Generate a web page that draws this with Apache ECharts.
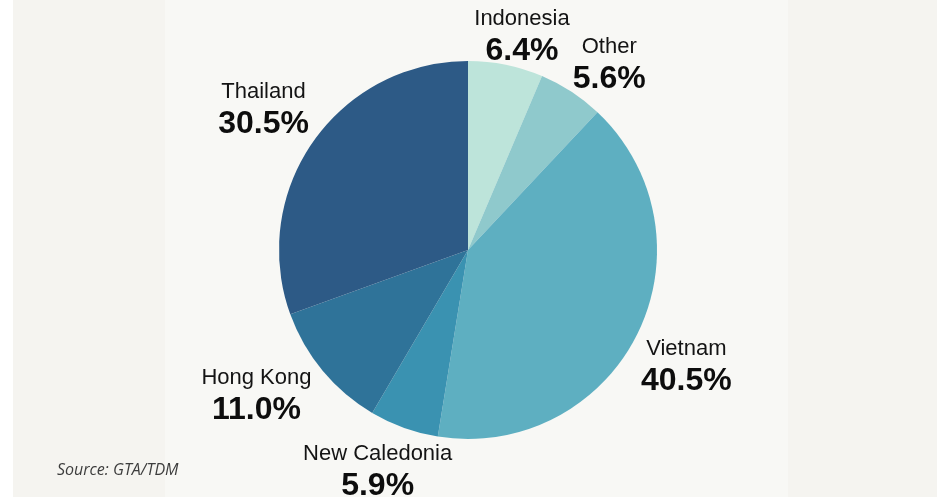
<!DOCTYPE html>
<html>
<head>
<meta charset="utf-8">
<script src="https://cdn.jsdelivr.net/npm/echarts@6/dist/echarts.min.js"></script>
<style>
  html, body { margin: 0; padding: 0; background: #ffffff; }
  #chart { width: 937px; height: 498px; }
</style>
</head>
<body>
<div id="chart"></div>
<script>
// ---- Data ----
const categories = ['Indonesia', 'Other', 'Vietnam', 'New Caledonia', 'Hong Kong', 'Thailand'];
const shares = [6.4, 5.6, 40.5, 5.9, 11.0, 30.5];
const sourceNote = 'Source: GTA/TDM';

// ---- Styles (kept separate from data) ----
const sliceColors = ['#bde4da', '#8fc9cc', '#5eafc1', '#3a92b1', '#2f7399', '#2d5a86'];
const labelNudges = [[6, 22], [10, 16], [3, 11], [-9, -4], [-27, -7], [-8, -2]];

const pieCenter = [468, 250];
const pieRadius = 189;
const labelRing = 474; // transparent ring whose inner label midpoint sits outside the pie

const chart = echarts.init(document.getElementById('chart'), null, { renderer: 'canvas' });

const pieData = categories.map((name, i) => ({
  name: name,
  value: shares[i],
  itemStyle: { color: sliceColors[i] }
}));

const labelData = categories.map((name, i) => ({
  name: name,
  value: shares[i],
  label: { offset: labelNudges[i] }
}));

const option = {
  backgroundColor: '#ffffff',
  animation: false,
  graphic: [
    { type: 'rect', silent: true, z: -10, shape: { x: 13, y: 0, width: 152, height: 497 }, style: { fill: '#f5f4f0' } },
    { type: 'rect', silent: true, z: -10, shape: { x: 165, y: 0, width: 623, height: 497 }, style: { fill: '#f8f8f5' } },
    { type: 'rect', silent: true, z: -10, shape: { x: 788, y: 0, width: 149, height: 497 }, style: { fill: '#f5f4f0' } },
    {
      type: 'text', silent: true, left: 57, top: 462,
      style: {
        text: sourceNote,
        fontFamily: 'Open Sans',
        fontStyle: 'italic',
        fontSize: 16,
        fill: '#3d3d3d'
      }
    }
  ],
  series: [
    {
      type: 'pie',
      center: pieCenter,
      radius: [0, pieRadius],
      startAngle: 90,
      clockwise: true,
      silent: true,
      label: { show: false },
      labelLine: { show: false },
      itemStyle: { borderWidth: 0 },
      data: pieData
    },
    {
      type: 'pie',
      center: pieCenter,
      radius: [0, labelRing],
      startAngle: 90,
      clockwise: true,
      silent: true,
      z: 5,
      itemStyle: { color: 'rgba(0,0,0,0)', borderWidth: 0 },
      labelLine: { show: false },
      label: {
        show: true,
        position: 'inside',
        align: 'center',
        formatter: p => '{n|' + p.name + '}\n{v|' + p.value.toFixed(1) + '%}',
        rich: {
          n: { fontFamily: 'Liberation Sans', fontSize: 22, color: '#141414', lineHeight: 28, align: 'center' },
          v: { fontFamily: 'Liberation Sans', fontSize: 32, fontWeight: 'bold', color: '#0d0d0d', lineHeight: 36, align: 'center' }
        }
      },
      data: labelData
    }
  ]
};

chart.setOption(option);
</script>
</body>
</html>
